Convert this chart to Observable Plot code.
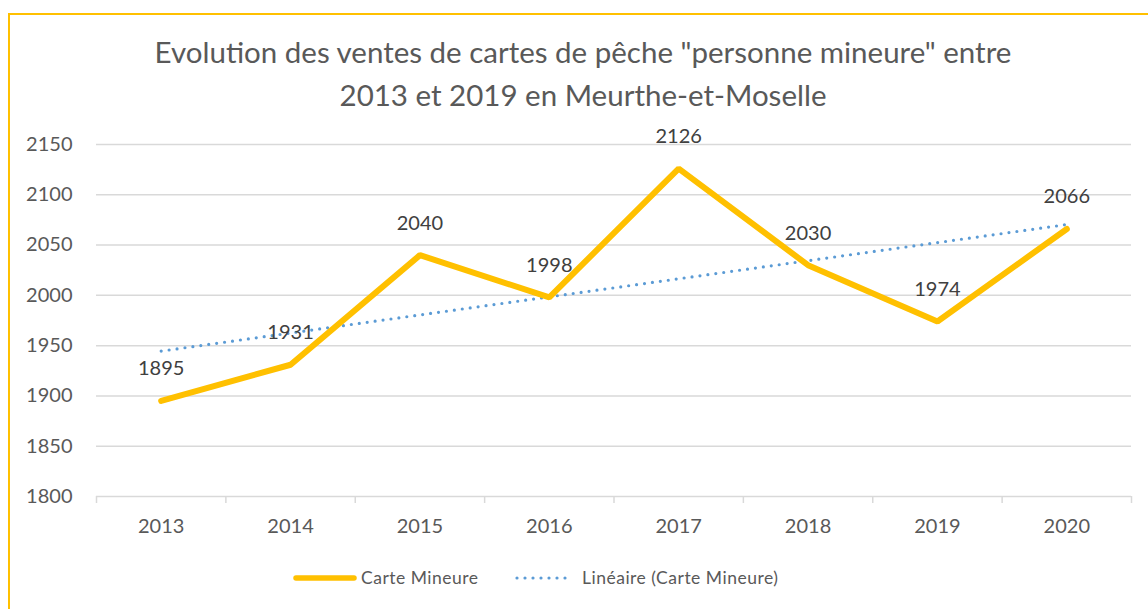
<!DOCTYPE html>
<html><head><meta charset="utf-8">
<script src="https://cdn.jsdelivr.net/npm/d3@7"></script>
<script src="https://cdn.jsdelivr.net/npm/@observablehq/plot@0.6"></script>
<style>
html,body{margin:0;padding:0;background:#fff;overflow:hidden;width:1148px;height:609px;}
#wrap{position:relative;width:1148px;height:609px;font-family:Lato,sans-serif;}
#border{position:absolute;left:8px;top:13px;width:1160px;height:700px;border:2px solid #FFC000;box-sizing:border-box;}
#title{position:absolute;left:0;width:1166px;top:30px;text-align:center;font-size:29.5px;line-height:43px;color:#595959;}
#chart{position:absolute;left:0;top:120px;}
#legend{position:absolute;top:566px;left:0;width:1148px;height:26px;font-size:17.5px;color:#595959;}
#legend svg{position:absolute;top:0}
#legend span{position:absolute;top:0;letter-spacing:0.5px;line-height:24px;}
</style></head><body>
<div id="wrap">
<div id="border"></div>
<div id="title">Evolution des ventes de cartes de pêche "personne mineure" entre<br>2013 et 2019 en Meurthe-et-Moselle</div>
<div id="chart"></div>
<div id="legend">
 <svg style="left:292px" width="66" height="24"><line x1="4" x2="62" y1="12" y2="12" stroke="#FFC000" stroke-width="5.5" stroke-linecap="round"/></svg>
 <span style="left:361px">Carte Mineure</span>
 <svg style="left:512px" width="66" height="24"><line x1="5" x2="61" y1="12" y2="12" stroke="#5B9BD5" stroke-width="3.2" stroke-linecap="round" stroke-dasharray="0 8"/></svg>
 <span style="left:582px">Linéaire (Carte Mineure)</span>
</div>
</div>
<script>
const years = [2013, 2014, 2015, 2016, 2017, 2018, 2019, 2020];
const ventes = [1895, 1931, 2040, 1998, 2126, 2030, 1974, 2066];
const yTicks = [1800, 1850, 1900, 1950, 2000, 2050, 2100, 2150];

const data = years.map((y, i) => ({year: y, value: ventes[i], idx: i + 1}));
// Excel linear trendline (least squares on index 1..n)
const mx = d3.mean(data, d => d.idx), my = d3.mean(data, d => d.value);
const slope = d3.sum(data, d => (d.idx - mx) * (d.value - my)) / d3.sum(data, d => (d.idx - mx) ** 2);
const icpt = my - slope * mx;
const trend = data.map(d => ({year: d.year, value: icpt + slope * d.idx}));
const bounds = years.map(y => y - 0.5).concat([years[years.length - 1] + 0.5]);

const chart = Plot.plot({
  width: 1148,
  height: 426,
  marginLeft: 96,
  marginRight: 17,
  marginTop: 24,
  marginBottom: 50,
  style: {fontFamily: "Lato, sans-serif", fontSize: "20px", color: "#595959", background: "transparent"},
  x: {domain: [years[0] - 0.5, years[years.length - 1] + 0.5]},
  y: {domain: [1800, 2150]},
  marks: [
    Plot.ruleY(yTicks, {stroke: "#d9d9d9", strokeWidth: 1.5}),
    Plot.axisY({ticks: yTicks, tickSize: 0, tickPadding: 24, label: null, tickFormat: d => String(d), fill: "#595959", fontSize: 20}),
    Plot.axisX({ticks: bounds, tickSize: 7, stroke: "#d9d9d9", strokeWidth: 1.5, tickFormat: () => "", label: null}),
    Plot.axisX({ticks: years, tickSize: 0, tickPadding: 22, tickFormat: d => String(d), label: null, fill: "#595959", fontSize: 20}),
    Plot.line(trend, {x: "year", y: "value", stroke: "#5B9BD5", strokeWidth: 3.2, strokeDasharray: "0 8", strokeLinecap: "round"}),
    Plot.line(data, {x: "year", y: "value", stroke: "#FFC000", strokeWidth: 6, strokeLinejoin: "miter", strokeLinecap: "round"}),
    Plot.text(data, {x: "year", y: "value", text: d => String(d.value), dy: -32, fill: "#404040", fontSize: 20})
  ]
});
document.getElementById("chart").appendChild(chart);
</script>
</body></html>
